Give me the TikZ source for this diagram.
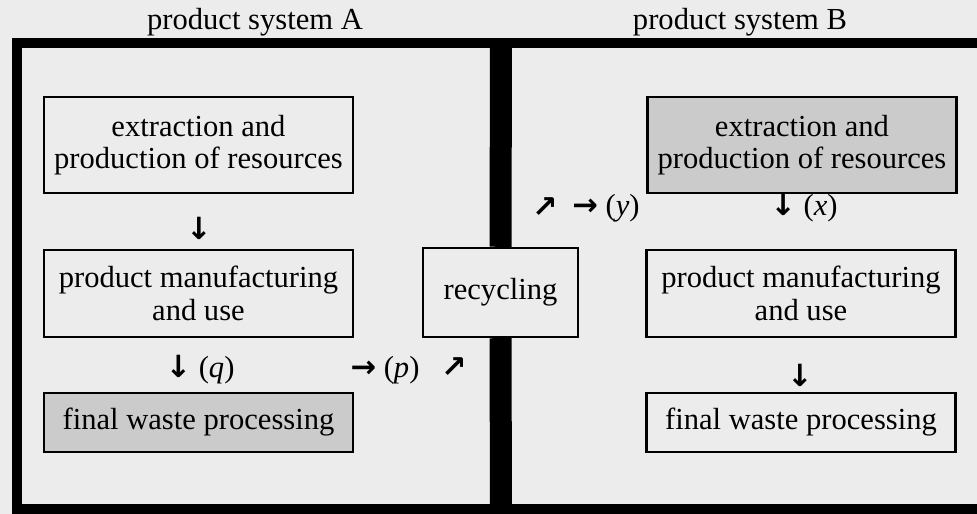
\documentclass[tikz,border=0pt]{standalone}
\usepackage{fontspec}
\setmainfont{Liberation Serif}
\newfontfamily\arrowfont[Scale=1.0]{DejaVu Sans Bold}
\usepackage{tikz}
\definecolor{paper}{HTML}{ECECEC}
\definecolor{shade}{HTML}{CBCBCB}
\newcommand{\dnarrow}{{\arrowfont ↓}}
\newcommand{\rtarrow}{{\arrowfont →}}
\newcommand{\nearr}{{\arrowfont ↗}}

\begin{document}
\begin{tikzpicture}[font=\fontsize{17.4}{18.4}\selectfont,
    stage/.style={draw, line width=1.4pt, align=center, inner sep=0pt, minimum width=6.18cm},
    frame/.style={line width=0.2cm},
    divider/.style={line width=0.44cm}]
            \fill[paper] (0,0) rectangle (19.54,10.28);
            \useasboundingbox (0,0) rectangle (19.54,10.28);
            \coordinate (TL) at (0.34,9.42);
            \coordinate (BL) at (0.34,0.1);
            \coordinate (TR) at (19.54,9.42);
            \coordinate (BR) at (19.54,0.1);
            \coordinate (MT) at (10.02,9.42);
            \coordinate (MB) at (10.02,0.1);
            \node (titleA) at (5.1,9.84) {product system A};
            \node (titleB) at (14.8,9.84) {product system B};
            % system A
            \node[stage, minimum height=1.92cm] (extA) at (3.97,7.38) {extraction and\\production of resources};
            \node[stage, minimum height=1.74cm] (prodA) at (3.97,4.41) {product manufacturing\\and use};
            \node[stage, fill=shade, minimum height=1.18cm] (wasteA) at (3.97,1.83) {final waste processing};
            % system B
            \node[stage, fill=shade, minimum height=1.92cm] (extB) at (16.04,7.38) {extraction and\\production of resources};
            \node[stage, minimum height=1.74cm] (prodB) at (16.02,4.41) {product manufacturing\\and use};
            \node[stage, minimum height=1.18cm] (wasteB) at (16.02,1.83) {final waste processing};
            \node[stage, fill=paper, minimum width=3.1cm, minimum height=1.78cm] (recyc) at (10.01,4.43) {recycling};
            \draw[frame] (TR) -- (TL) -- (BL) -- (BR);
            \draw[divider] (MT) -- (recyc.north);
            \draw[divider] (recyc.south) -- (MB);
            % flows
            \node (downA) at (3.98,5.72) {\dnarrow};
            \node (downQ) at (4.0,2.88) {\dnarrow\ (\textit{q})};
            \node (rightP) at (7.7,2.88) {\rtarrow\ (\textit{p})};
            \node (upP) at (9.08,2.92) {\nearr};
            \node (upY) at (10.9,6.12) {\nearr};
            \node (rightY) at (12.12,6.12) {\rtarrow\ (\textit{y})};
            \node (downX) at (16.08,6.12) {\dnarrow\ (\textit{x})};
            \node (downB) at (16.0,2.78) {\dnarrow};
        \end{tikzpicture}
\end{document}
